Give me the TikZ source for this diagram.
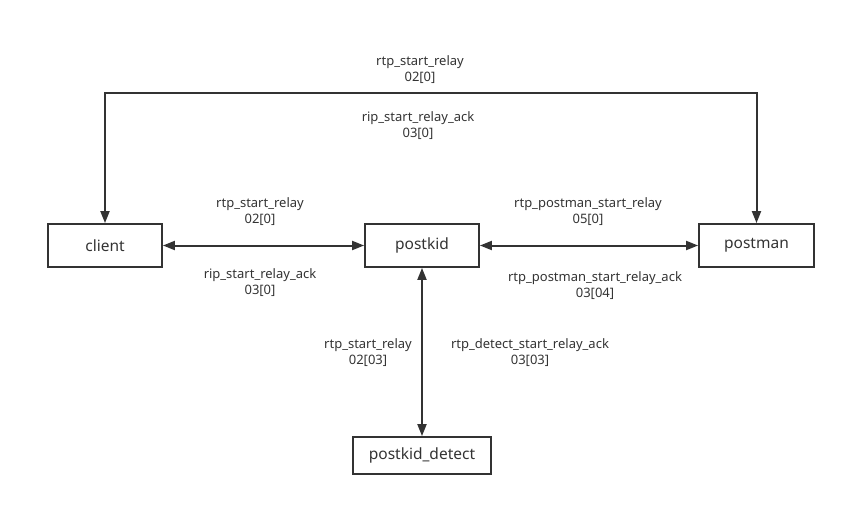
\documentclass[tikz,border=0pt]{standalone}
\usepackage{fontspec}
\setmainfont{Noto Sans}
\usetikzlibrary{arrows.meta}
\definecolor{ink}{HTML}{333333}
\begin{document}
\begin{tikzpicture}[x=1pt,y=-1pt,
  box/.style={draw=ink, line width=1.8pt, minimum height=43pt, inner sep=0pt, font=\fontsize{15.5}{18}\selectfont, text=ink},
  conn/.style={draw=ink, line width=2pt, {Triangle[length=12pt,width=9pt]}-{Triangle[length=12pt,width=9pt]}},
  oneway/.style={draw=ink, line width=2pt, -{Triangle[length=12pt,width=9pt]}},
  lbl/.style={align=center, font=\fontsize{13}{16}\selectfont, text=ink, inner sep=0pt}]
\useasboundingbox (0,0) rectangle (846,506);
\node[box, minimum width=114pt] (client) at (105,245.5) {client};
\node[box, minimum width=114pt] (postkid) at (422,245.5) {postkid};
\node[box, minimum width=115pt] (postman) at (756.5,245.5) {postman};
\node[box, minimum width=138pt, minimum height=37pt] (detect) at (422,455.5) {postkid\_detect};
\coordinate (tl) at (105,93);
\coordinate (tr) at (756.5,93);
\draw[conn] (client) -- (postkid);
\draw[conn] (postkid) -- (postman);
\draw[conn] (postkid) -- (detect);
\draw[oneway] (tl) -- (client.north);
\draw[oneway] (tr) -- (postman.north);
\draw[draw=ink, line width=2pt, line cap=rect] (tl) -- (tr);
\node[lbl] (l1) at (420,70) {rtp\_start\_relay\\02[0]};
\node[lbl] (l2) at (418,126) {rip\_start\_relay\_ack\\03[0]};
\node[lbl] (l3) at (260,212) {rtp\_start\_relay\\02[0]};
\node[lbl] (l4) at (260,283) {rip\_start\_relay\_ack\\03[0]};
\node[lbl] (l5) at (588,212) {rtp\_postman\_start\_relay\\05[0]};
\node[lbl] (l6) at (595,286) {rtp\_postman\_start\_relay\_ack\\03[04]};
\node[lbl] (l7) at (368,353) {rtp\_start\_relay\\02[03]};
\node[lbl] (l8) at (530,353) {rtp\_detect\_start\_relay\_ack\\03[03]};
\end{tikzpicture}
\end{document}
